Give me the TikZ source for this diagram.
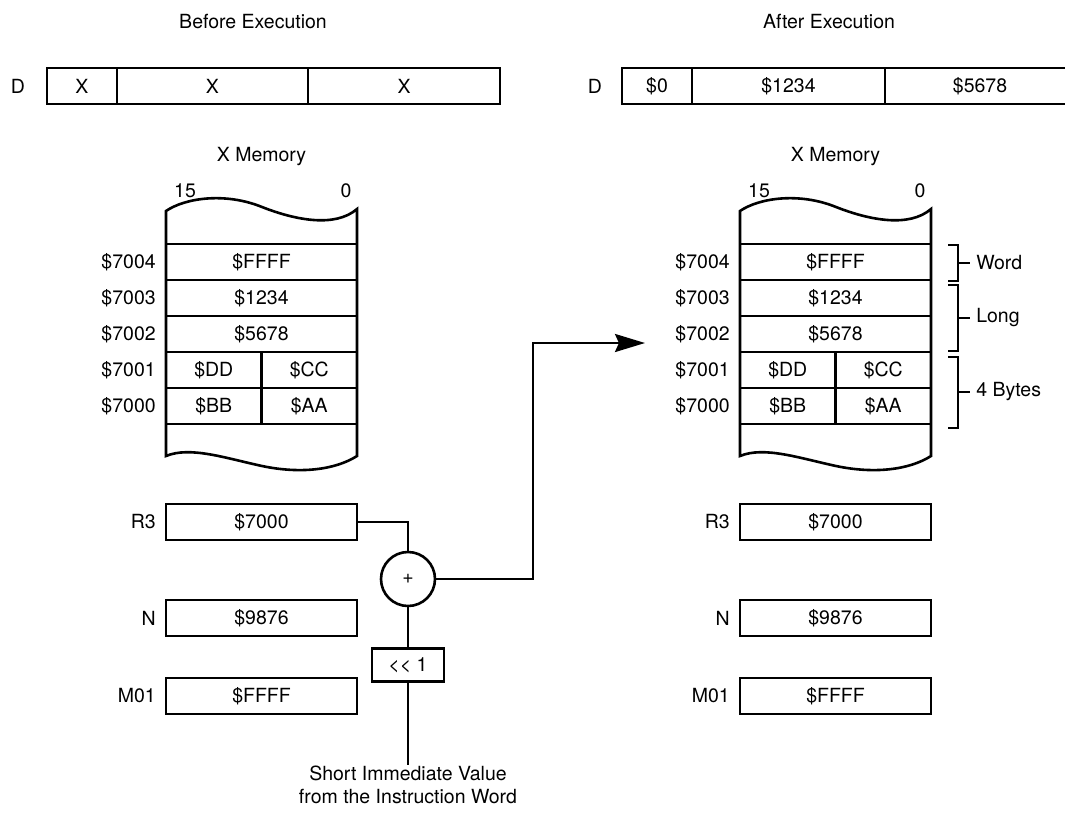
\documentclass[tikz,border=0pt]{standalone}
\usepackage{fontspec}
\setmainfont{TeX Gyre Heros}
\usetikzlibrary{arrows.meta}
\begin{document}
\begin{tikzpicture}[x=1pt,y=-1pt, line width=2.6pt,
  every node/.style={font=\fontsize{19.5}{23}\selectfont, inner sep=0pt},
  cell/.style={draw, minimum height=36pt, line width=2.6pt},
  reg/.style={cell, minimum width=191pt},
  half/.style={cell, minimum width=95.5pt},
  lbl/.style={anchor=east},
  brk/.style={line width=1.9pt}]
\useasboundingbox (0,0) rectangle (1065,812);

% titles
\node (tb) at (253,22) {Before Execution};
\node (ta) at (829,22) {After Execution};

% D registers
\node (dL) at (18,86) {D};
\node[cell, minimum width=70pt]  (dL1) at (82,86) {X};
\node[cell, minimum width=191pt] (dL2) at (212.5,86) {X};
\node[cell, minimum width=192pt] (dL3) at (404,86) {X};
\node (dR) at (595,86) {D};
\node[cell, minimum width=70pt]  (dR1) at (657,86) {\$0};
\node[cell, minimum width=193pt] (dR2) at (788.5,86) {\$1234};
\node[cell, minimum width=190pt] (dR3) at (980,86) {\$5678};

\foreach \s/\dx in {L/0,R/574}{
\begin{scope}[xshift=\dx pt]
  \node (xm\s) at (261.5,157) {X Memory};
  \node (b15\s) at (185,191) {15};
  \node (b0\s) at (346,191) {0};
  \draw (166,211) .. controls (185,198) and (225,192) .. (262,207)
        .. controls (295,220) and (335,228) .. (357,209)
        -- (357,456) .. controls (335,470) and (300,474) .. (262,466)
        .. controls (225,458) and (190,446) .. (166,456) -- cycle;
  \node[reg] (m4\s) at (261.5,262) {\$FFFF};
  \node[reg] (m3\s) at (261.5,298) {\$1234};
  \node[reg] (m2\s) at (261.5,334) {\$5678};
  \node[half] (m1a\s) at (213.75,370) {\$DD};
  \node[half] (m1b\s) at (309.25,370) {\$CC};
  \node[half] (m0a\s) at (213.75,406) {\$BB};
  \node[half] (m0b\s) at (309.25,406) {\$AA};
  \node[lbl] (a4\s) at (157,262) {\$7004};
  \node[lbl] (a3\s) at (157,298) {\$7003};
  \node[lbl] (a2\s) at (157,334) {\$7002};
  \node[lbl] (a1\s) at (157,370) {\$7001};
  \node[lbl] (a0\s) at (157,406) {\$7000};
  \node[reg] (r3\s) at (261.5,522) {\$7000};
  \node[reg] (n\s) at (261.5,618) {\$9876};
  \node[reg] (m01\s) at (261.5,696) {\$FFFF};
  \node[lbl] (lr3\s) at (157,522) {R3};
  \node[lbl] (ln\s) at (157,618) {N};
  \node[lbl] (lm01\s) at (157,696) {M01};
\end{scope}
}

% address computation
\node[draw, circle, minimum size=54pt] (plus) at (408,579) {+};
\node[draw, minimum width=72pt, minimum height=33pt] (shl) at (408,665) {<\kern0pt< 1};
\node[align=center] (src) at (408,785) {Short Immediate Value\\from the Instruction Word};
\draw (r3L.east) -| (plus.north);
\draw (plus.south) -- (shl.north);
\draw (shl.south) -- (src.north);
\coordinate (tip) at (645,343);
\draw[-{Stealth[length=30pt,width=18pt,inset=4pt]}] (plus.east) -- (533,579) |- (tip);

% brackets
\draw[brk] (948,245) -- (958,245) -- (958,281) -- (948,281);
\draw[brk] (958,263) -- (970,263);
\node[anchor=west] (wd) at (975,263) {Word};
\draw[brk] (948,285) -- (958,285) -- (958,351) -- (948,351);
\draw[brk] (958,318) -- (970,318);
\node[anchor=west] (lg) at (975,318) {Long};
\draw[brk] (948,357) -- (958,357) -- (958,428) -- (948,428);
\draw[brk] (958,392) -- (970,392);
\node[anchor=west] (fb) at (975,392) {4 Bytes};
\end{tikzpicture}
\end{document}
